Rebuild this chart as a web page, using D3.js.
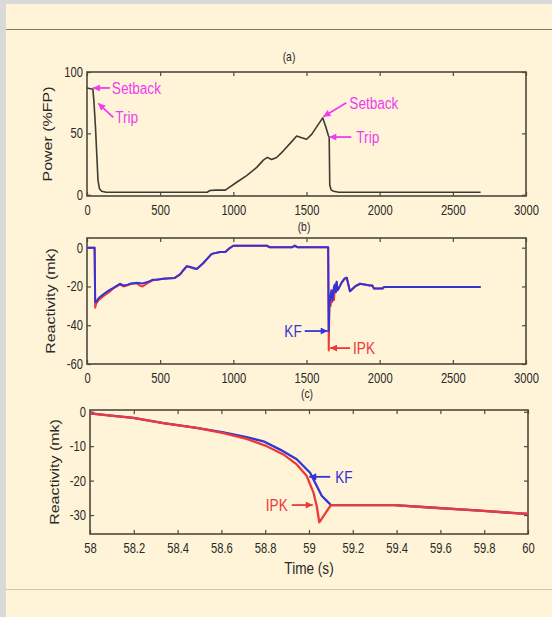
<!DOCTYPE html>
<html>
<head>
<meta charset="utf-8">
<script src="https://cdn.jsdelivr.net/npm/d3@7"></script>
<style>
  body { margin: 0; background: #fff4d8; }
  svg { display: block; }
</style>
</head>
<body>
<svg id="chart" width="552" height="617"></svg>
<script>
// (a) power
const powerTime = [0, 40, 48, 58, 68, 75, 85, 100, 130, 820, 840, 880, 945, 965, 1023, 1091, 1160, 1205, 1232, 1262, 1296, 1342, 1399, 1433, 1467, 1501, 1535, 1611, 1630, 1650, 1655, 1659, 1668, 1685, 1720, 2690]
const powerValue = [87, 86, 75, 55, 30, 12, 5, 2.8, 2, 2, 3.5, 3.8, 3.8, 5.4, 10.2, 15.6, 22.3, 28.2, 30.4, 28.8, 30.4, 35.8, 43.3, 47.8, 46.5, 45.2, 49.2, 62.6, 56, 48, 47, 8, 4, 2.8, 2, 2]

// (b) reactivity, long run
const kfTime = [0, 52, 56, 62, 80, 112, 150, 180, 225, 250, 271, 300, 340, 380, 420, 450, 476, 520, 600, 636, 660, 681, 700, 730, 750, 795, 830, 852, 909, 945, 970, 1000, 1230, 1250, 1400, 1420, 1440, 1648, 1652, 1656, 1662, 1670, 1678, 1688, 1695, 1700, 1706, 1712, 1720, 1740, 1760, 1775, 1797, 1832, 1866, 1934, 1950, 1960, 2020, 2030, 2690]
const kfValue = [0, 0, -28, -28, -26, -24, -22, -20.7, -18.6, -19.5, -19.3, -18.5, -18.1, -18.5, -17.5, -16.5, -16.5, -16, -15.6, -13.8, -11.5, -9.6, -9.8, -10.5, -11, -7.9, -5, -3.2, -2.2, -2.2, -0.5, 1, 1, 0.2, 0.2, 1, 0.2, 0.2, -43, -30, -26, -22, -27, -20, -19, -23, -17.6, -22, -21, -18, -16, -15.5, -22.5, -20, -18.6, -19.5, -19.5, -21, -21, -20.3, -20.3]
const ipkTime = [0, 52, 56, 62, 80, 112, 150, 180, 225, 250, 271, 300, 340, 360, 380, 400, 420, 450, 476, 520, 600, 636, 660, 681, 700, 730, 750, 795, 830, 852, 909, 945, 970, 1000, 1230, 1250, 1400, 1420, 1440, 1648, 1652, 1656, 1660, 1665, 1670, 1676, 1682, 1688, 1695, 1700, 1706, 1712, 1720, 1740, 1760, 1775, 1797, 1832, 1866, 1934, 1950, 1960, 2020, 2030, 2690]
const ipkValue = [0, 0, -31, -29, -27, -25, -23, -21, -19, -20, -19.5, -18.8, -18.3, -19.5, -20, -19, -18, -16.8, -16.5, -16, -15.6, -13.8, -11.5, -9.6, -10, -10.8, -11, -8, -5, -3.2, -2.2, -2.2, -0.5, 1, 1, 0.2, 0.2, 1, 0.2, 0.2, -53, -32, -25, -30, -24, -28, -22, -27, -19, -23, -17.6, -22, -21, -18, -16, -15.5, -22.5, -20, -18.6, -19.5, -19.5, -21, -21, -20.3, -20.3]

// (c) reactivity, zoomed 58-60 s
const kfZoomTime = [58, 58.106, 58.198, 58.335, 58.487, 58.609, 58.715, 58.792, 58.868, 58.944, 59.005, 59.035, 59.058, 59.08, 59.1, 59.39, 59.553, 59.78, 60]
const kfZoomValue = [-0.5, -1.2, -1.8, -3.3, -4.7, -6.0, -7.4, -8.6, -11, -13.8, -17.7, -21.5, -24.4, -25.8, -27.1, -27.1, -27.8, -28.7, -29.7]
const ipkZoomTime = [58, 58.106, 58.198, 58.335, 58.487, 58.609, 58.715, 58.807, 58.883, 58.944, 58.989, 59.02, 59.035, 59.047, 59.1, 59.39, 59.553, 59.78, 60]
const ipkZoomValue = [-0.5, -1.2, -1.8, -3.3, -4.7, -6.2, -7.9, -10, -12.4, -15.3, -18.6, -23.4, -27.3, -32.1, -27.1, -27.1, -27.8, -28.7, -29.7]

const longTicks = [0, 500, 1000, 1500, 2000, 2500, 3000]
const zoomTicks = [58, 58.2, 58.4, 58.6, 58.8, 59, 59.2, 59.4, 59.6, 59.8, 60]

const axisColor = '#4d4a3c'
const textColor = '#2a2a2a'
const font = '"Liberation Sans", Arial, sans-serif'
const squeeze = 0.8
const magenta = '#f03cf0'
const blue = '#3434d4'
const red = '#ec3a3a'

const svg = d3.select('#chart')

// page frame
svg.append('rect').attr('x', 0).attr('y', 0).attr('width', 552).attr('height', 617).attr('fill', '#fff4d8')
svg.append('rect').attr('x', 0).attr('y', 0).attr('width', 552).attr('height', 4).attr('fill', '#d9d9d9')
svg.append('rect').attr('x', 0).attr('y', 0).attr('width', 6).attr('height', 617).attr('fill', '#d9d9d9')
svg.append('line').attr('x1', 6).attr('x2', 552).attr('y1', 29.5).attr('y2', 29.5).attr('stroke', '#857a5c').attr('stroke-width', 1)
svg.append('line').attr('x1', 6).attr('x2', 552).attr('y1', 589.5).attr('y2', 589.5).attr('stroke', '#d2c6a6').attr('stroke-width', 1)

const defs = svg.append('defs')
function marker(id, color) {
    defs.append('marker')
        .attr('id', id)
        .attr('viewBox', '0 0 10 10')
        .attr('refX', 10).attr('refY', 5)
        .attr('markerWidth', 8).attr('markerHeight', 7)
        .attr('markerUnits', 'userSpaceOnUse')
        .attr('orient', 'auto')
        .append('path')
        .attr('d', 'M0,0L10,5L0,10Z')
        .attr('fill', color)
}
marker('head-m', magenta)
marker('head-b', blue)
marker('head-r', red)

// horizontally condensed text, like the squeezed original
function label(parent, x, y, str, size, color, anchor) {
    return parent.append('text')
        .attr('transform', `translate(${x},${y}) scale(${squeeze},1)`)
        .attr('text-anchor', anchor || 'middle')
        .style('font-family', font).style('font-size', size + 'px')
        .attr('fill', color)
        .text(str)
}

const fmt = d => String(d)

function panel(opt) {
    const x = d3.scaleLinear().domain(opt.xDomain).range([opt.left, opt.right])
    const y = d3.scaleLinear().domain(opt.yDomain).range([opt.bottom, opt.top])
    const g = svg.append('g')

    const xb = g.append('g').attr('transform', `translate(0,${opt.bottom})`)
        .call(d3.axisBottom(x).tickValues(opt.xTicks).tickSize(-4).tickFormat(fmt))
    xb.selectAll('text').attr('y', 0).attr('dy', null)
        .attr('transform', `translate(0,${opt.tickY}) scale(${squeeze},1)`)
        .style('font-family', font).style('font-size', '14px').attr('fill', textColor)
    const xt = g.append('g').attr('transform', `translate(0,${opt.top})`)
        .call(d3.axisTop(x).tickValues(opt.xTicks).tickSize(-4).tickFormat(''))

    const yl = g.append('g').attr('transform', `translate(${opt.left},0)`)
        .call(d3.axisLeft(y).tickValues(opt.yTicks).tickSize(-4).tickFormat(fmt))
    yl.selectAll('text').attr('x', 0)
        .attr('transform', `translate(-4,0) scale(${squeeze},1)`)
        .style('font-family', font).style('font-size', '14px').attr('fill', textColor)
    const yr = g.append('g').attr('transform', `translate(${opt.right},0)`)
        .call(d3.axisRight(y).tickValues(opt.yTicks).tickSize(-4).tickFormat(''))

    ;[xb, xt, yl, yr].forEach(a => {
        a.select('.domain').remove()
        a.selectAll('line').attr('stroke', axisColor).attr('stroke-width', 1.2)
    })

    g.append('rect')
        .attr('x', opt.left).attr('y', opt.top)
        .attr('width', opt.right - opt.left).attr('height', opt.bottom - opt.top)
        .attr('fill', 'none').attr('stroke', axisColor).attr('stroke-width', 1.6)

    g.append('text')
        .attr('transform', `translate(${opt.labelX},${(opt.top + opt.bottom) / 2}) rotate(-90) scale(1,${squeeze})`)
        .attr('text-anchor', 'middle').attr('dy', '0.35em')
        .style('font-family', font).style('font-size', '16px').attr('fill', textColor)
        .text(opt.yLabel)

    label(g, opt.titleX, opt.titleY, opt.title, 13, textColor)

    return { g, x, y }
}

function drawLine(p, xs, ys, color, width) {
    const line = d3.line().x(d => p.x(d[0])).y(d => p.y(d[1]))
    p.g.append('path')
        .datum(d3.zip(xs, ys))
        .attr('d', line)
        .attr('fill', 'none')
        .attr('stroke', color)
        .attr('stroke-width', width)
        .attr('stroke-linejoin', 'round')
}

// arrow from an offset (dx, dy) in pixels to a data point, with label
function annotate(p, t, v, dx, dy, text, color, markerId, textDx, anchor) {
    const hx = p.x(t), hy = p.y(v)
    p.g.append('line')
        .attr('x1', hx + dx).attr('y1', hy + dy)
        .attr('x2', hx).attr('y2', hy)
        .attr('stroke', color).attr('stroke-width', 1.8)
        .attr('marker-end', `url(#${markerId})`)
    label(p.g, hx + dx + textDx, hy + dy + 6, text, 17, color, anchor)
}

const pa = panel({
    left: 87, right: 526, top: 72, bottom: 196,
    xDomain: [0, 3000], yDomain: [-1, 100],
    xTicks: longTicks, yTicks: [0, 50, 100],
    yLabel: 'Power (%FP)', labelX: 48, tickY: 19,
    title: '(a)', titleX: 289, titleY: 61
})
drawLine(pa, powerTime, powerValue, '#3c3c34', 1.6)
annotate(pa, 40, 87, 17, 0, 'Setback', magenta, 'head-m', 2, 'start')
annotate(pa, 77, 74.5, 15, 14, 'Trip', magenta, 'head-m', 2, 'start')
annotate(pa, 1615, 63.6, 23, -14, 'Setback', magenta, 'head-m', 3, 'start')
annotate(pa, 1656, 47, 22, 0, 'Trip', magenta, 'head-m', 5, 'start')

const pb = panel({
    left: 87, right: 526, top: 238, bottom: 364,
    xDomain: [0, 3000], yDomain: [-60, 5],
    xTicks: longTicks, yTicks: [0, -20, -40, -60],
    yLabel: 'Reactivity (mk)', labelX: 51, tickY: 19,
    title: '(b)', titleX: 304, titleY: 231
})
drawLine(pb, ipkTime, ipkValue, red, 2)
drawLine(pb, kfTime, kfValue, blue, 2)
annotate(pb, 1645, -43, -23, 0, 'KF', blue, 'head-b', -3, 'end')
annotate(pb, 1661, -51.8, 20, 0, 'IPK', red, 'head-r', 3, 'start')

const pc = panel({
    left: 90, right: 528, top: 410, bottom: 534,
    xDomain: [58, 60], yDomain: [-35.5, 0.5],
    xTicks: zoomTicks, yTicks: [0, -10, -20, -30],
    yLabel: 'Reactivity (mk)', labelX: 55, tickY: 19,
    title: '(c)', titleX: 307, titleY: 398
})
drawLine(pc, kfZoomTime, kfZoomValue, blue, 2.3)
drawLine(pc, ipkZoomTime, ipkZoomValue, red, 2.3)
annotate(pc, 59.001, -18.9, 21, 0, 'KF', blue, 'head-b', 5, 'start')
annotate(pc, 59.017, -27.1, -21, 0, 'IPK', red, 'head-r', -4, 'end')

label(pc.g, 309, 574, 'Time (s)', 17, textColor)
</script>
</body>
</html>
